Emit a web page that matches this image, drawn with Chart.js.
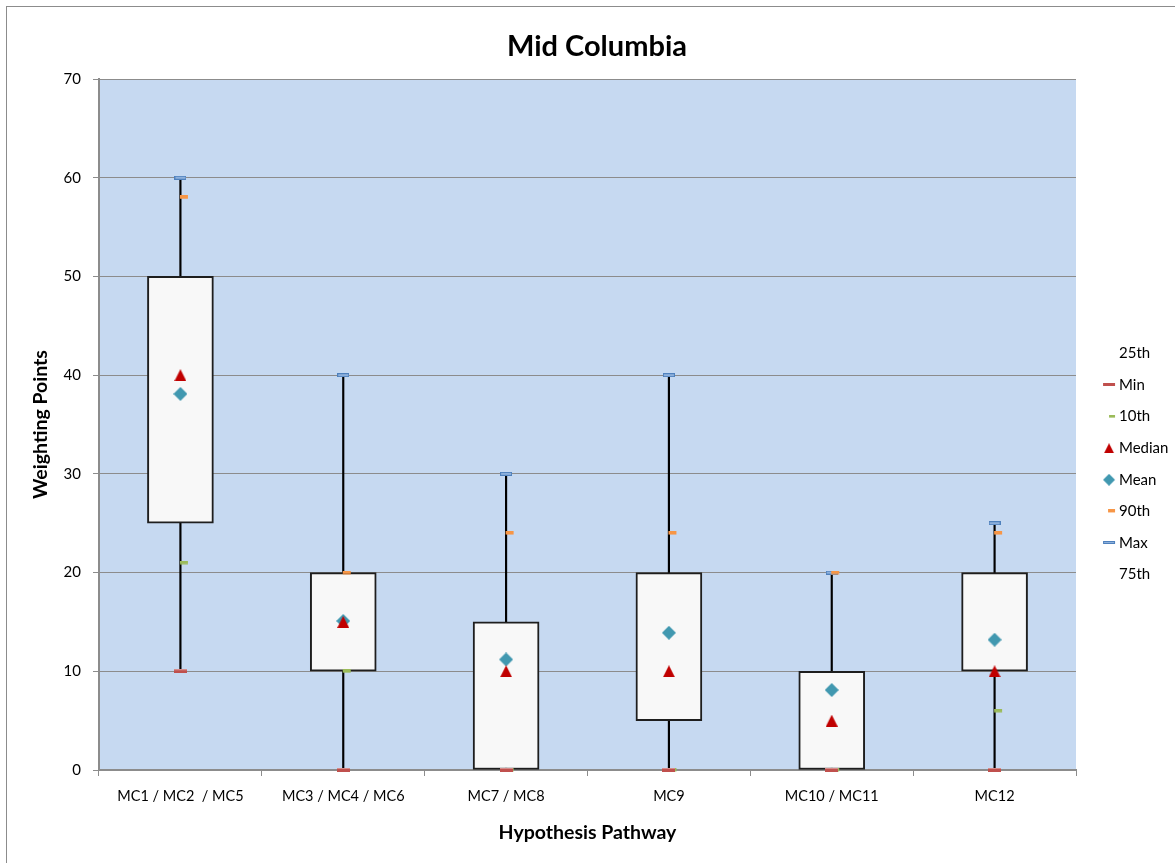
<!DOCTYPE html>
<html><head><meta charset="utf-8">
<script src="https://cdn.jsdelivr.net/npm/chart.js@4.4.1/dist/chart.umd.min.js"></script>
<style>
html,body{margin:0;padding:0;background:#fff;overflow:hidden;width:1175px;height:863px;}
#frame{position:absolute;left:6px;top:6px;width:1300px;height:1000px;border:1px solid #8c8c8c;box-sizing:border-box;}
#wrap{position:absolute;left:0;top:0;width:1194px;height:863px;}
</style></head><body>
<div id="frame"></div>
<div id="wrap"><canvas id="c" width="1194" height="863"></canvas></div>
<script>
// ---- data ----
const categories = ['MC1 / MC2  / MC5', 'MC3 / MC4 / MC6', 'MC7 / MC8', 'MC9', 'MC10 / MC11', 'MC12'];
const minV    = [10, 0, 0, 0, 0, 0];
const p10V    = [21, 10, 0, 0, 0, 6];
const q1V     = [25, 10, 0, 5, 0, 10];
const medianV = [40, 15, 10, 10, 5, 10];
const meanV   = [38.1, 15.1, 11.2, 13.9, 8.1, 13.2];
const q3V     = [50, 20, 15, 20, 10, 20];
const p90V    = [58, 20, 24, 24, 20, 24];
const maxV    = [60, 40, 30, 40, 20, 25];
const yTicks  = [0, 10, 20, 30, 40, 50, 60, 70];
const legendNames = ['25th', 'Min', '10th', 'Median', 'Mean', '90th', 'Max', '75th'];

// ---- marker images ----
function mk(w, h, draw) { const c = document.createElement('canvas'); c.width = w; c.height = h; draw(c.getContext('2d')); return c; }
const RED = '#C0504D', GREEN = '#9BBB59', ORANGE = '#F79646', BLUE = '#4F81BD', MEDC = '#C00000', MEANC = '#4198B0';
const mMin = mk(13, 4, g => { g.fillStyle = RED; g.fillRect(0, 0, 13, 4); g.fillStyle = '#D58C8A'; g.fillRect(0, 0, 13, 1); });
const mP10 = mk(23, 4, g => { g.fillStyle = GREEN; g.fillRect(11, 0, 8, 3.5); });
const mP90 = mk(23, 4, g => { g.fillStyle = ORANGE; g.fillRect(11, 0, 8, 3.5); });
const mMax = mk(12, 4, g => { g.fillStyle = BLUE; g.fillRect(0, 0, 12, 4); g.fillStyle = '#8DB0DC'; g.fillRect(1, 1, 10, 2); });
const mMed = mk(12, 12, g => { g.fillStyle = MEDC; g.beginPath(); g.moveTo(6, 0); g.lineTo(12, 12); g.lineTo(0, 12); g.closePath(); g.fill(); });
const mMean = mk(14, 14, g => { g.fillStyle = MEANC; g.beginPath(); g.moveTo(7, 0); g.lineTo(14, 7); g.lineTo(7, 14); g.lineTo(0, 7); g.closePath(); g.fill(); });

// legend images (wider transparent canvases, mark shifted right)
const lNone = mk(2, 2, g => {});
const lMin = mk(40, 4, g => { g.fillStyle = RED; g.fillRect(21, 0, 12, 3); });
const lP10 = mk(40, 4, g => { g.fillStyle = GREEN; g.fillRect(27, 0, 6, 3); });
const lMed = mk(40, 10, g => { g.fillStyle = MEDC; g.beginPath(); g.moveTo(27, 0); g.lineTo(32, 10); g.lineTo(22, 10); g.closePath(); g.fill(); });
const lMean = mk(40, 12, g => { g.fillStyle = MEANC; g.beginPath(); g.moveTo(27, 0); g.lineTo(33, 6); g.lineTo(27, 12); g.lineTo(21, 6); g.closePath(); g.fill(); });
const lP90 = mk(40, 4, g => { g.fillStyle = ORANGE; g.fillRect(26, 0, 7, 3); });
const lMax = mk(40, 4, g => { g.fillStyle = BLUE; g.fillRect(21, 0, 12, 3); g.fillStyle = '#8DB0DC'; g.fillRect(22, 1, 10, 1); });
const legendImgs = [lNone, lMin, lP10, lMed, lMean, lP90, lMax, lNone];

const FONT = 'Lato';
Chart.defaults.font.family = FONT;
Chart.defaults.color = '#000';

const mctx = document.createElement('canvas').getContext('2d');
mctx.font = '15px ' + FONT;
const medW = mctx.measureText('Median').width;

const LP = 16.6, LW = 18.9;

const plotBg = {
  id: 'plotBg',
  beforeDraw(chart) {
    const { ctx, chartArea: a } = chart;
    ctx.save(); ctx.fillStyle = '#C6D9F1'; ctx.fillRect(a.left, a.top, a.width, a.height); ctx.restore();
  }
};

// empty spacer box at the far right (outside the legend), so the title centres like the original
const spacerW = Math.max(0, 65 - medW);
const rightSpacer = {
  id: 'rightSpacer',
  beforeInit(chart) {
    Chart.layouts.addBox(chart, {
      position: 'right', weight: 5000, fullSize: false, options: {},
      width: spacerW, height: 0, left: 0, right: 0, top: 0, bottom: 0,
      isHorizontal() { return false; },
      update(maxW, maxH) { this.width = spacerW; this.height = maxH; },
      draw() {}
    });
  }
};

function pts(label, data, img) {
  return { type: 'line', label, data, showLine: false, pointStyle: img, pointRadius: 6, pointHoverRadius: 6, clip: false, order: 1 };
}

new Chart(document.getElementById('c'), {
  data: {
    labels: categories,
    datasets: [
      { type: 'bar', label: 'Whisker', data: categories.map((c, i) => [minV[i], maxV[i]]), backgroundColor: '#000', barThickness: 1.5, grouped: false, order: 3 },
      { type: 'bar', label: 'Box', data: categories.map((c, i) => [q1V[i], q3V[i]]), backgroundColor: '#F8F8F8', borderColor: '#1e1e1e', borderWidth: 2, borderSkipped: false, barThickness: 66, grouped: false, order: 2 },
      pts('Min', minV, mMin),
      pts('10th', p10V, mP10),
      pts('90th', p90V, mP90),
      pts('Max', maxV, mMax),
      pts('Median', medianV, mMed),
      pts('Mean', meanV, mMean)
    ]
  },
  options: {
    responsive: false,
    animation: false,
    layout: { padding: { left: 0, top: 0, bottom: 0, right: 0 } },
    plugins: {
      tooltip: { enabled: false },
      title: { display: true, text: 'Mid Columbia', color: '#000', font: { size: 29, weight: 'bold', lineHeight: 1 }, padding: { top: 32, bottom: 18 } },
      legend: {
        position: 'right', align: 'center',
        title: { display: true, text: ' ', font: { size: 10, lineHeight: 1.2 }, padding: { top: 53, bottom: 0 } },
        labels: {
          usePointStyle: true, pointStyleWidth: LW, padding: LP, color: '#000',
          font: { size: 15 },
          generateLabels: () => legendNames.map((n, i) => ({
            text: n, pointStyle: legendImgs[i], fillStyle: 'rgba(0,0,0,0)', strokeStyle: 'rgba(0,0,0,0)', lineWidth: 0, hidden: false, datasetIndex: 0, fontColor: '#000'
          }))
        },
        onClick: () => {}
      }
    },
    scales: {
      x: {
        type: 'category', offset: true,
        grid: { display: true, drawOnChartArea: false, drawTicks: true, tickLength: 6, offset: true, color: '#8c8c8c', lineWidth: 1 },
        border: { display: true, color: '#8c8c8c', width: 2 },
        ticks: { font: { size: 14.5 }, color: '#000', padding: 12, maxRotation: 0, autoSkip: false },
        title: { display: true, text: 'Hypothesis Pathway', color: '#000', font: { size: 19.5, weight: 'bold' }, padding: { top: 0, bottom: 18.3 } },
        afterFit(s) { s.height = 93; }
      },
      y: {
        min: 0, max: 70,
        afterBuildTicks(s) { s.ticks = yTicks.map(v => ({ value: v })); },
        grid: { color: '#8c8c8c', lineWidth: 1, tickLength: 6 },
        border: { display: true, color: '#8c8c8c', width: 2 },
        ticks: { font: { size: 15 }, color: '#000', padding: 12 },
        title: { display: true, text: 'Weighting Points', color: '#000', font: { size: 19.5, weight: 'bold' }, padding: { top: 29.3, bottom: 0 } },
        afterFit(s) { s.width = 99; }
      }
    }
  },
  plugins: [plotBg, rightSpacer]
});
</script>
</body></html>
